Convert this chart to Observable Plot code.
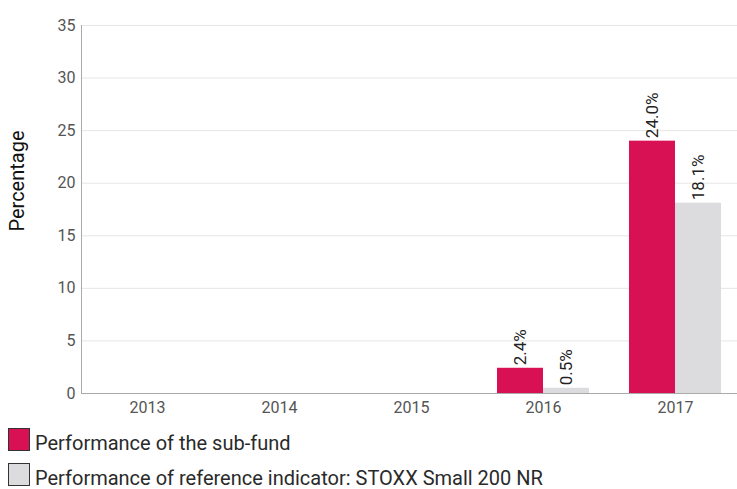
<!DOCTYPE html>
<html>
<head>
<meta charset="utf-8">
<script src="https://cdn.jsdelivr.net/npm/d3@7"></script>
<script src="https://cdn.jsdelivr.net/npm/@observablehq/plot@0.6"></script>
<style>
  html, body { margin: 0; padding: 0; background: #fff; overflow: hidden; width: 737px; height: 489px; }
  body { font-family: Roboto, "Liberation Sans", sans-serif; position: relative; }
  #chart { width: 737px; overflow: hidden; }
  #chart svg { display: block; max-width: none !important; }
  .sw { position: absolute; left: 8px; width: 22px; height: 23px; border: 1px solid #333; box-sizing: border-box; }
  .lab { position: absolute; left: 35px; font-size: 20px; line-height: 17px; color: #2a2a2a; white-space: nowrap; }
</style>
</head>
<body>
<div id="chart"></div>
<div id="legend"></div>
<script>
const years = ["2013", "2014", "2015", "2016", "2017"];
const seriesNames = ["Performance of the sub-fund", "Performance of reference indicator: STOXX Small 200 NR"];
const subFund = [null, null, null, 2.4, 24.0];
const reference = [null, null, null, 0.5, 18.1];
const colors = ["#d81155", "#dcdcde"];
const yTicks = [0, 5, 10, 15, 20, 25, 30, 35];

const data = [];
years.forEach((y, i) => {
  if (subFund[i] != null) data.push({year: y, series: seriesNames[0], value: subFund[i]});
  if (reference[i] != null) data.push({year: y, series: seriesNames[1], value: reference[i]});
});
const sub = data.filter(d => d.series === seriesNames[0]);
const ref = data.filter(d => d.series === seriesNames[1]);

const font = "Roboto, 'Liberation Sans', sans-serif";
const plot = Plot.plot({
  width: 741,
  height: 420,
  marginLeft: 81,
  marginRight: 0,
  marginTop: 25,
  marginBottom: 27,
  style: {fontFamily: font, fontSize: "16px", color: "#555", background: "#fff", maxWidth: "none"},
  x: {domain: years, padding: 0, label: null},
  y: {domain: [0, 35], label: null},
  marks: [
    Plot.gridY(yTicks, {stroke: "#e6e6e6", strokeOpacity: 1}),
    Plot.axisY(yTicks, {tickSize: 0, tickPadding: 6, fontSize: 16, fill: "#555", label: null}),
    Plot.axisX({tickSize: 0, tickPadding: 8, fontSize: 16, fill: "#555", label: null}),
    Plot.barY(sub, {x: "year", y: "value", fill: colors[0], insetLeft: 20, insetRight: 66}),
    Plot.barY(ref, {x: "year", y: "value", fill: colors[1], insetLeft: 66, insetRight: 20}),
    Plot.text(sub, {x: "year", y: "value", text: d => d.value.toFixed(1) + "%", rotate: -90, textAnchor: "start", lineAnchor: "middle", dx: -23, dy: -3, fontSize: 17, fill: "#222"}),
    Plot.text(ref, {x: "year", y: "value", text: d => d.value.toFixed(1) + "%", rotate: -90, textAnchor: "start", lineAnchor: "middle", dx: 23, dy: -3, fontSize: 17, fill: "#222"}),
    Plot.ruleY([0], {stroke: "#aaa"}),
    Plot.frame({anchor: "left", stroke: "#aaa"})
  ]
});
plot.style.maxWidth = "none";
document.getElementById("chart").appendChild(plot);

// y-axis title
const svg = d3.select(plot);
svg.append("text")
  .attr("transform", "translate(17,181) rotate(-90)")
  .attr("text-anchor", "middle")
  .attr("dominant-baseline", "central")
  .attr("font-size", 20)
  .attr("font-family", font)
  .attr("fill", "#111")
  .text("Percentage");

const legend = document.getElementById("legend");
const swTops = [428, 463];
seriesNames.forEach((name, i) => {
  const sw = document.createElement("div");
  sw.className = "sw";
  sw.style.top = swTops[i] + "px";
  sw.style.background = colors[i];
  const lab = document.createElement("div");
  lab.className = "lab";
  lab.style.top = (swTops[i] + 7) + "px";
  lab.textContent = name;
  legend.appendChild(sw);
  legend.appendChild(lab);
});
</script>
</body>
</html>
